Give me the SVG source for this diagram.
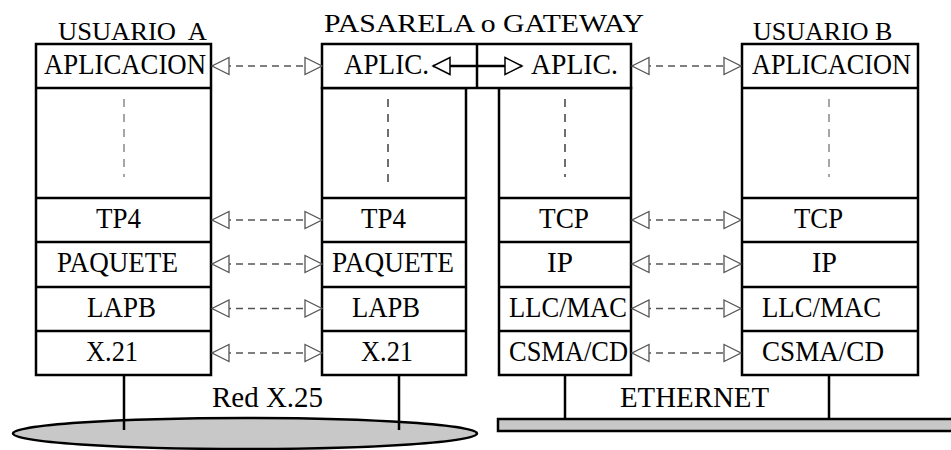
<svg xmlns="http://www.w3.org/2000/svg" width="951" height="450" viewBox="0 0 951 450">
<style>
.box{fill:#fff;stroke:#000;stroke-width:2.5}
.ln{stroke:#000;stroke-width:2.5;fill:none}
.h{font-family:"Liberation Serif","Times New Roman",serif;font-size:26px;fill:#000}
.t{font-family:"Liberation Serif","Times New Roman",serif;font-size:29px;fill:#000}
.tl{font-family:"Liberation Serif","Times New Roman",serif;font-size:30px;fill:#000}
.vd{stroke:#777;stroke-width:1.3;stroke-dasharray:8,7;fill:none}
.vdk{stroke:#222;stroke-width:1.3;stroke-dasharray:8,7;fill:none}
.dash{stroke:#555;stroke-width:1.3;stroke-dasharray:7,5;fill:none;marker-start:url(#og);marker-end:url(#og)}
.solid{stroke:#000;stroke-width:2.5;fill:none;marker-start:url(#ob);marker-end:url(#ob)}
.net{fill:#c8c8c8;stroke:#000;stroke-width:2.5}
</style>
<defs>
<marker id="og" markerUnits="userSpaceOnUse" markerWidth="20" markerHeight="20" refX="17" refY="9" orient="auto-start-reverse" viewBox="-1 0 20 18">
<path d="M0,0.5 L17,9 L0,17.5 Z" fill="#fff" stroke="#555" stroke-width="1.3"/>
</marker>
<marker id="ob" markerUnits="userSpaceOnUse" markerWidth="20" markerHeight="20" refX="17" refY="9" orient="auto-start-reverse" viewBox="-1 0 20 18">
<path d="M0,0.5 L17,9 L0,17.5 Z" fill="#fff" stroke="#000" stroke-width="1.5"/>
</marker>
</defs>

<g id="x25-network">
<ellipse class="net" cx="245" cy="433.5" rx="232" ry="15.5"/>
<text class="tl" x="212" y="407" textLength="111" lengthAdjust="spacingAndGlyphs">Red X.25</text>
</g>

<g id="ethernet-network">
<rect class="net" x="498" y="419" width="460" height="12"/>
<text class="tl" x="620" y="407" textLength="149" lengthAdjust="spacingAndGlyphs">ETHERNET</text>
</g>

<g id="usuario-a">
<text class="h" x="58" y="40" xml:space="preserve" textLength="149" lengthAdjust="spacingAndGlyphs">USUARIO  A</text>
<rect class="box" x="36" y="44" width="175" height="331"/>
<path class="ln" d="M36,88H211M36,198H211M36,242H211M36,287H211M36,331H211"/>
<path class="vd" d="M124,99V177"/>
<text class="t" x="44" y="73.5" textLength="162" lengthAdjust="spacingAndGlyphs">APLICACION</text>
<text class="t" x="96" y="228" textLength="45" lengthAdjust="spacingAndGlyphs">TP4</text>
<text class="t" x="57" y="272" textLength="121" lengthAdjust="spacingAndGlyphs">PAQUETE</text>
<text class="t" x="87" y="316.5" textLength="69" lengthAdjust="spacingAndGlyphs">LAPB</text>
<text class="t" x="86" y="360.5" textLength="52" lengthAdjust="spacingAndGlyphs">X.21</text>
</g>

<g id="gateway">
<text class="h" x="324" y="32" textLength="320" lengthAdjust="spacingAndGlyphs">PASARELA o GATEWAY</text>
<rect class="box" x="322" y="88" width="144" height="287"/>
<rect class="box" x="499" y="88" width="132" height="287"/>
<rect class="box" x="322" y="44" width="309" height="44"/>
<path class="ln" d="M477,44V88"/>
<path class="ln" d="M322,198H466M322,242H466M322,287H466M322,331H466"/>
<path class="ln" d="M499,198H631M499,242H631M499,287H631M499,331H631"/>
<path class="vdk" d="M388,99V183"/>
<path class="vdk" d="M565,99V177"/>
<text class="t" x="344" y="73.5" textLength="85" lengthAdjust="spacingAndGlyphs">APLIC.</text>
<text class="t" x="531" y="73.5" textLength="87" lengthAdjust="spacingAndGlyphs">APLIC.</text>
<text class="t" x="361" y="228" textLength="45" lengthAdjust="spacingAndGlyphs">TP4</text>
<text class="t" x="332" y="272" textLength="122" lengthAdjust="spacingAndGlyphs">PAQUETE</text>
<text class="t" x="352" y="316.5" textLength="68" lengthAdjust="spacingAndGlyphs">LAPB</text>
<text class="t" x="361" y="360.5" textLength="52" lengthAdjust="spacingAndGlyphs">X.21</text>
<text class="t" x="539" y="228" textLength="50" lengthAdjust="spacingAndGlyphs">TCP</text>
<text class="t" x="547" y="272" textLength="26" lengthAdjust="spacingAndGlyphs">IP</text>
<text class="t" x="509" y="316.5" textLength="118" lengthAdjust="spacingAndGlyphs">LLC/MAC</text>
<text class="t" x="509" y="360.5" textLength="119" lengthAdjust="spacingAndGlyphs">CSMA/CD</text>
</g>

<g id="usuario-b">
<text class="h" x="753" y="40">USUARIO B</text>
<rect class="box" x="742" y="44" width="176" height="331"/>
<path class="ln" d="M742,88H918M742,198H918M742,242H918M742,287H918M742,331H918"/>
<path class="vd" d="M829,99V177"/>
<text class="t" x="752" y="73.5" textLength="159" lengthAdjust="spacingAndGlyphs">APLICACION</text>
<text class="t" x="794" y="228" textLength="49" lengthAdjust="spacingAndGlyphs">TCP</text>
<text class="t" x="812" y="272" textLength="25" lengthAdjust="spacingAndGlyphs">IP</text>
<text class="t" x="762" y="316.5" textLength="119" lengthAdjust="spacingAndGlyphs">LLC/MAC</text>
<text class="t" x="762" y="360.5" textLength="122" lengthAdjust="spacingAndGlyphs">CSMA/CD</text>
</g>

<g id="connectors">
<path class="dash" d="M212,66H322"/>
<path class="dash" d="M212,220H322"/>
<path class="dash" d="M212,264H322"/>
<path class="dash" d="M212,308.5H322"/>
<path class="dash" d="M212,353H322"/>
<path class="dash" d="M632,66H741"/>
<path class="dash" d="M632,220H741"/>
<path class="dash" d="M632,264H741"/>
<path class="dash" d="M632,308.5H741"/>
<path class="dash" d="M632,353H741"/>
<path class="solid" d="M433,66H522"/>
<path class="ln" d="M124,375V430M399,375V430"/>
<path class="ln" d="M565,375V419M829,375V419"/>
</g>
</svg>
